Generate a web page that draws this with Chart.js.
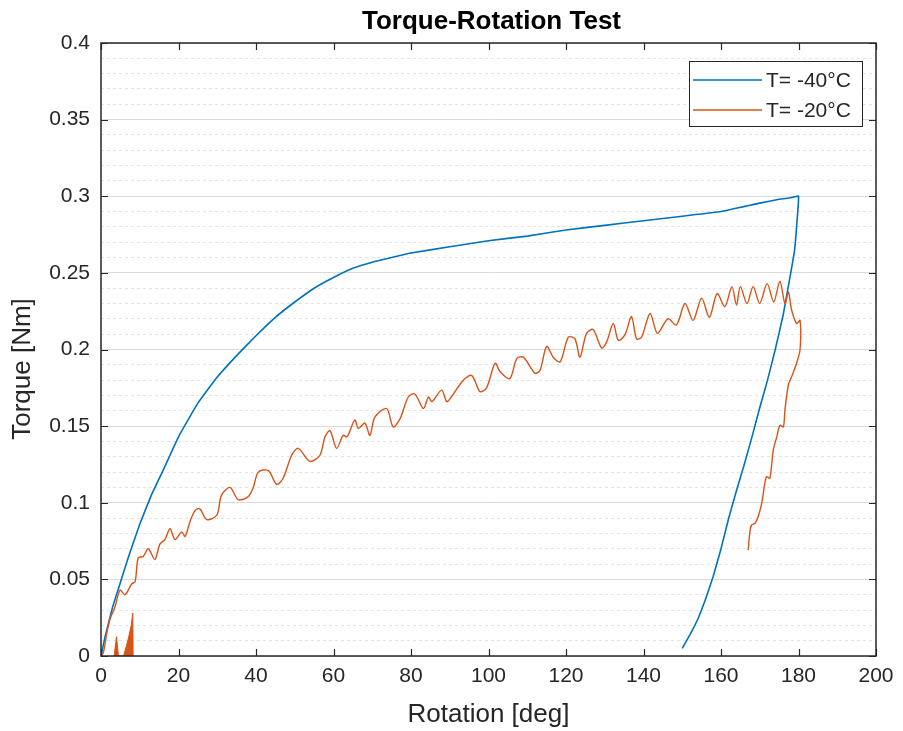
<!DOCTYPE html>
<html>
<head>
<meta charset="utf-8">
<script src="https://cdn.jsdelivr.net/npm/chart.js@4"></script>
<style>
  html, body { margin: 0; padding: 0; background: #fff; }
  #wrap { width: 903px; height: 731px; }
</style>
</head>
<body>
<div id="wrap"><canvas id="myChart" width="903" height="731"></canvas></div>
<script>
// data
const blueRotation = [0, 1, 2, 3, 5, 7, 10, 13, 16, 20, 25, 30, 35, 40, 45, 50, 55, 60, 65, 70, 75, 80, 90, 100, 110, 120, 130, 140, 150, 160, 170, 175, 178, 180,
  179.5, 179, 178, 177, 176, 174, 172, 170, 168, 166, 164, 162, 160, 158, 156, 154, 152, 150];
const blueTorque = [0, 0.012, 0.022, 0.032, 0.048, 0.064, 0.086, 0.105, 0.121, 0.143, 0.165, 0.182, 0.196, 0.209, 0.221, 0.231, 0.240, 0.247, 0.253, 0.257, 0.260, 0.263, 0.267, 0.271, 0.274, 0.278, 0.281, 0.284, 0.287, 0.290, 0.2955, 0.298, 0.299, 0.300,
  0.28, 0.265, 0.25, 0.236, 0.222, 0.2, 0.18, 0.162, 0.143, 0.125, 0.108, 0.09, 0.07, 0.052, 0.037, 0.024, 0.014, 0.005];

const orangeRotation = [0, 0.6, 1.5, 2.3, 3.6, 4.9, 6.2, 7.9, 8.8, 9.6, 10.9, 12.2, 13.9, 15.2, 16.5, 17.8, 19.1, 20.8, 21.7, 23, 24.3, 25.5, 27.3, 29.9,
  31.1, 33.3, 35.4, 38, 39.3, 40.6, 43.2, 45.3, 47, 49.2, 50.9, 53.9, 56.5, 57.8, 59.1, 60.8, 62.5, 63.5, 65.5, 66.4, 68.1, 69.4, 70.7, 73.7, 75.4,
  77.2, 79.3, 81, 83.2, 84.5, 85.4, 87.9, 89.2, 90.1, 93.5, 95.7, 97.8, 99.5, 101.7, 103, 105.5, 107.3, 109, 112, 113.3, 115, 116.7, 118.5, 120.6,
  122.3, 123.6, 125.3, 127, 129.2, 130.5, 132.2, 133.5, 135.2, 136.9, 138.2, 139.5, 141.7, 143.6, 146.3, 148.5, 150.7, 152.8, 155, 157, 159, 161,
  162.8, 164, 165, 166.7, 168.3, 170, 171.9, 173.6, 175.2, 176.5, 177.4, 178.2, 179.5, 180.4,
  180.4, 179.5, 178.2, 177.4, 176.5, 176.1, 175.2, 174.4, 173.5, 172.6, 171.8, 171.4, 170.5, 169.6, 168.8, 167.9, 167.5, 167];
const orangeTorque = [0, 0.002, 0.015, 0.024, 0.032, 0.043, 0.040, 0.047, 0.0485, 0.064, 0.065, 0.070, 0.063, 0.073, 0.076, 0.083, 0.076, 0.081, 0.078, 0.088, 0.095, 0.096, 0.089, 0.092,
  0.105, 0.110, 0.102, 0.104, 0.110, 0.120, 0.121, 0.112, 0.116, 0.131, 0.1355, 0.127, 0.131, 0.143, 0.147, 0.1355, 0.144, 0.143, 0.154, 0.1485, 0.152, 0.144, 0.156, 0.1615, 0.1495,
  0.155, 0.169, 0.171, 0.1615, 0.169, 0.166, 0.1735, 0.166, 0.168, 0.180, 0.183, 0.1725, 0.175, 0.191, 0.1855, 0.181, 0.194, 0.195, 0.1845, 0.1865, 0.202, 0.195, 0.192, 0.208,
  0.207, 0.195, 0.2105, 0.213, 0.201, 0.205, 0.217, 0.206, 0.2095, 0.2215, 0.207, 0.208, 0.2235, 0.2105, 0.220, 0.216, 0.230, 0.219, 0.2335, 0.221, 0.2365, 0.228,
  0.241, 0.229, 0.241, 0.230, 0.241, 0.230, 0.243, 0.231, 0.2445, 0.230, 0.2375, 0.226, 0.217, 0.219,
  0.200, 0.191, 0.182, 0.177, 0.1605, 0.1495, 0.1505, 0.143, 0.1345, 0.116, 0.117, 0.114, 0.0996, 0.091, 0.0866, 0.0855, 0.082, 0.069];

// the two little filled spikes near the origin (-20°C run)
const spikeRotation = [3.4, 4.0, 4.5, 5.8, 6.5, 7.2, 7.8, 8.2, 8.3];
const spikeTorque = [0, 0.0126, 0, 0, 0.006, 0.013, 0.02, 0.028, 0];

const seriesLabels = ['T= -40°C', 'T= -20°C'];
const xTicks = [0, 20, 40, 60, 80, 100, 120, 140, 160, 180, 200];
const yTicks = [0, 0.05, 0.1, 0.15, 0.2, 0.25, 0.3, 0.35, 0.4];

const zip = (xs, ys) => xs.map((x, i) => ({ x: x, y: ys[i] }));

const FONT = '"Liberation Sans", Arial, Helvetica, sans-serif';
const AXIS = '#262626';
const BLUE = '#0072BD';
const ORANGE = '#D95319';

// title, y label, axes box with inward ticks, legend box
const matlabLook = {
  id: 'matlabLook',
  afterDraw(chart) {
    const ctx = chart.ctx;
    const a = chart.chartArea;
    const xs = chart.scales.x, ys = chart.scales.y;
    ctx.save();
    ctx.strokeStyle = AXIS;
    ctx.lineWidth = 1.5;
    ctx.strokeRect(a.left, a.top, a.right - a.left, a.bottom - a.top);
    ctx.lineWidth = 1.2;
    ctx.beginPath();
    xTicks.forEach(v => {
      const px = Math.round(xs.getPixelForValue(v)) + 0.5;
      ctx.moveTo(px, a.bottom); ctx.lineTo(px, a.bottom - 7);
      ctx.moveTo(px, a.top); ctx.lineTo(px, a.top + 7);
    });
    yTicks.forEach(v => {
      const py = Math.round(ys.getPixelForValue(v)) + 0.5;
      ctx.moveTo(a.left, py); ctx.lineTo(a.left + 7, py);
      ctx.moveTo(a.right, py); ctx.lineTo(a.right - 7, py);
    });
    ctx.stroke();

    // title
    ctx.fillStyle = '#000';
    ctx.font = 'bold 26px ' + FONT;
    ctx.textAlign = 'center';
    ctx.textBaseline = 'middle';
    ctx.fillText('Torque-Rotation Test', (a.left + a.right) / 2 + 3, 22);

    // y axis title
    ctx.save();
    ctx.translate(23, 369);
    ctx.rotate(-Math.PI / 2);
    ctx.fillStyle = AXIS;
    ctx.font = '26px ' + FONT;
    ctx.fillText('Torque [Nm]', 0, 0);
    ctx.restore();

    // legend
    const lx = 689, ly = 61, lw = 173, lh = 65;
    ctx.fillStyle = '#fff';
    ctx.fillRect(lx, ly, lw, lh);
    ctx.strokeStyle = AXIS;
    ctx.lineWidth = 1;
    ctx.strokeRect(lx + 0.5, ly + 0.5, lw, lh);
    ctx.font = '21px ' + FONT;
    ctx.textAlign = 'left';
    chart.data.datasets.slice(0, 2).forEach((ds, i) => {
      const y = ly + 19 + i * 30;
      ctx.strokeStyle = ds.borderColor;
      ctx.lineWidth = 1.5;
      ctx.beginPath();
      ctx.moveTo(lx + 4, y); ctx.lineTo(lx + 73, y);
      ctx.stroke();
      ctx.fillStyle = AXIS;
      ctx.fillText(ds.label, lx + 77, y + 1);
    });
    ctx.restore();
  }
};

new Chart(document.getElementById('myChart').getContext('2d'), {
  type: 'line',
  data: {
    datasets: [
      {
        label: seriesLabels[0],
        data: zip(blueRotation, blueTorque),
        borderColor: BLUE,
        borderWidth: 1.6,
        pointRadius: 0,
        tension: 0.1,
        order: 2
      },
      {
        label: seriesLabels[1],
        data: zip(orangeRotation, orangeTorque),
        borderColor: ORANGE,
        borderWidth: 1.4,
        pointRadius: 0,
        tension: 0.3,
        order: 1
      },
      {
        label: 'spikes',
        data: zip(spikeRotation, spikeTorque),
        borderColor: ORANGE,
        backgroundColor: ORANGE,
        borderWidth: 1,
        pointRadius: 0,
        tension: 0,
        fill: 'origin',
        order: 1
      }
    ]
  },
  options: {
    responsive: false,
    animation: false,
    events: [],
    layout: { padding: { top: 43, right: 27, left: 0, bottom: 0 } },
    plugins: {
      legend: { display: false },
      title: { display: false },
      tooltip: { enabled: false }
    },
    scales: {
      x: {
        type: 'linear',
        min: 0,
        max: 200,
        afterFit: s => { s.height = 75; },
        afterBuildTicks: s => { s.ticks = xTicks.map(v => ({ value: v })); },
        grid: { display: false, drawTicks: false },
        border: { display: false },
        ticks: { color: AXIS, font: { family: FONT, size: 21 }, padding: 8, maxRotation: 0 },
        title: { display: true, text: 'Rotation [deg]', color: AXIS, font: { family: FONT, size: 26 }, padding: { top: 0, bottom: 1 } }
      },
      y: {
        type: 'linear',
        min: 0,
        max: 0.4,
        afterFit: s => { s.width = 101; },
        ticks: {
          stepSize: 0.01,
          autoSkip: false,
          color: AXIS,
          font: { family: FONT, size: 21 },
          padding: 11,
          callback: v => (Math.round(v * 100) % 5 === 0 ? String(+v.toFixed(2)) : '')
        },
        grid: {
          drawTicks: false,
          lineWidth: 1,
          color: c => (Math.round(c.tick.value * 100) % 5 === 0 ? '#dadada' : '#e4e4e4')
        },
        border: {
          display: false,
          dash: c => (c.tick && Math.round(c.tick.value * 100) % 5 === 0 ? [] : [3, 3])
        },
        title: { display: false }
      }
    }
  },
  plugins: [matlabLook]
});
</script>
</body>
</html>
